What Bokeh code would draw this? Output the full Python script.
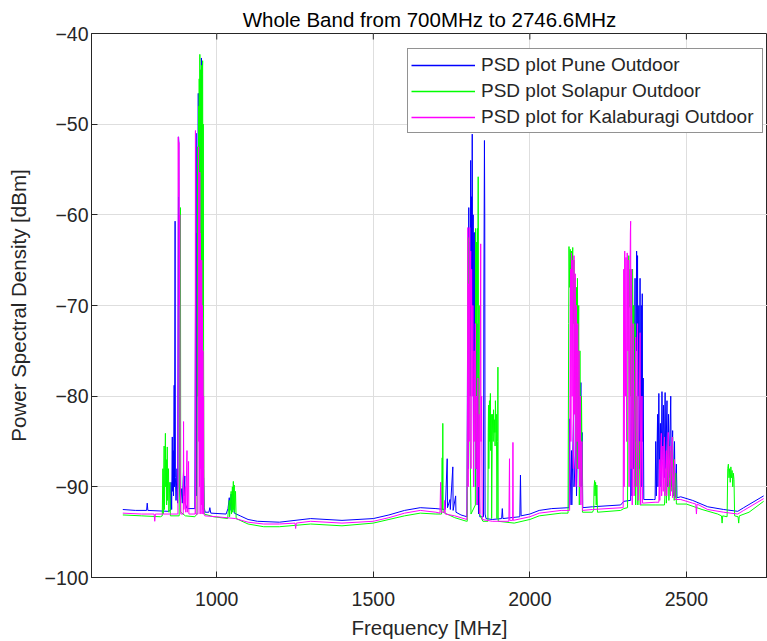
from bokeh.plotting import figure
from bokeh.models import Range1d, FixedTicker, Legend, LegendItem, ColumnDataSource
from bokeh.embed import file_html
from bokeh.resources import INLINE

TITLE = "Whole Band from 700MHz to 2746.6MHz"
X_LABEL = "Frequency [MHz]"
Y_LABEL = "Power Spectral Density [dBm]"
X_TICKS = [1000, 1500, 2000, 2500]
Y_TICKS = [-100, -90, -80, -70, -60, -50, -40]
SERIES_NAMES = ["PSD plot Pune Outdoor", "PSD plot Solapur Outdoor", "PSD plot for Kalaburagi Outdoor"]

# (frequency MHz, PSD dBm)
pune = [
    (700, -92.5), (740, -92.6), (776, -92.6), (778, -91.8), (780, -92.6), (845, -92.7),
    (852, -92.6), (854, -89.5), (856, -92.5), (858, -84.5), (859, -90.5), (861, -86.0), (862, -91.0),
    (864, -78.8), (865, -90.0), (867, -60.7), (868, -89.0), (870, -91.5), (873, -88.0), (875, -91.8),
    (878, -51.4), (879, -52.0), (880, -90.0), (884, -91.5), (888, -90.2), (890, -91.8), (894, -88.2),
    (895, -91.0), (898, -88.8), (899, -91.8), (905, -92.4), (930, -92.4), (934, -51.0), (935, -91.0),
    (938, -62.0), (939, -80.0), (941, -46.6), (942, -70.0), (944, -55.0), (945, -75.0), (947, -60.0),
    (948, -85.0), (951, -42.7), (952, -80.0), (954, -88.2), (956, -91.5), (958, -89.0), (960, -92.3),
    (963, -92.8), (975, -92.8), (978, -92.3), (981, -92.9), (1030, -93.0), (1036, -92.4), (1040, -91.2),
    (1042, -92.6), (1046, -90.8), (1048, -92.5), (1053, -91.5), (1056, -92.9), (1075, -93.2),
    (1100, -93.6), (1130, -93.8), (1200, -93.9), (1300, -93.5), (1400, -93.7), (1500, -93.5),
    (1550, -93.1), (1600, -92.6), (1650, -92.3), (1700, -92.4), (1730, -92.5), (1736, -86.9),
    (1737, -92.3), (1745, -91.4), (1746, -92.5), (1754, -87.8), (1755, -92.6), (1763, -91.0),
    (1764, -92.8), (1780, -93.1), (1799, -93.3),
    (1801, -75.0), (1803, -88.0), (1805, -59.2), (1806, -72.0), (1808, -63.0), (1809, -80.0),
    (1811, -54.0), (1812, -70.0), (1814, -58.0), (1815, -66.0), (1816, -51.1), (1817, -75.0),
    (1819, -60.0), (1820, -85.0), (1822, -62.0), (1823, -80.0), (1825, -61.9), (1826, -90.0),
    (1828, -66.0), (1829, -88.0), (1831, -72.0), (1832, -92.0), (1834, -80.0), (1836, -93.0),
    (1838, -88.0), (1840, -93.3), (1852, -93.3), (1853, -70.0), (1855, -51.8), (1856, -60.0),
    (1857, -93.0), (1860, -93.5), (1880, -93.6), (1910, -93.5), (1912, -92.4), (1914, -93.5),
    (1940, -93.4), (1968, -93.3), (1970, -88.7), (1972, -93.2), (2000, -93.0), (2030, -92.6),
    (2070, -92.4), (2125, -92.3),
    (2127, -82.5), (2128, -92.0), (2133, -86.0), (2134, -92.0), (2140, -81.5), (2141, -90.0),
    (2148, -85.0), (2149, -91.0), (2156, -77.9), (2157, -88.0), (2160, -82.0), (2161, -89.0),
    (2163, -78.5), (2164, -90.0), (2167, -84.0), (2169, -92.3), (2200, -92.2), (2290, -92.0),
    (2300, -91.6), (2320, -91.5),
    (2322, -91.5), (2324, -75.0), (2326, -91.0), (2330, -70.0), (2331, -88.0), (2336, -67.0),
    (2337, -85.0), (2341, -64.0), (2342, -75.0), (2344, -64.5), (2345, -80.0), (2348, -70.0),
    (2349, -88.0), (2352, -67.0), (2353, -85.0), (2356, -70.0), (2357, -90.0), (2359, -68.7),
    (2360, -85.0), (2362, -78.0), (2364, -91.4), (2395, -91.4),
    (2400, -91.4), (2402, -85.0), (2404, -91.0), (2408, -82.0), (2409, -90.0), (2412, -79.7),
    (2414, -88.0), (2417, -83.0), (2419, -90.0), (2422, -79.5), (2424, -87.0), (2427, -81.0),
    (2429, -89.0), (2432, -79.6), (2434, -88.0), (2438, -80.5), (2440, -90.0), (2443, -82.0),
    (2445, -89.0), (2450, -80.0), (2452, -90.0), (2456, -83.8), (2458, -91.0), (2462, -85.0),
    (2464, -91.2), (2468, -87.5), (2470, -91.2), (2482, -91.1),
    (2520, -91.5), (2568, -92.2), (2619, -92.5), (2664, -92.7), (2683, -92.3), (2746.6, -91.0),
]

solapur = [
    (700, -93.1), (760, -93.2), (820, -93.3), (826, -93.2), (828, -88.0), (829, -93.0), (832, -85.5),
    (833, -92.5), (836, -84.1), (837, -90.0), (839, -87.0), (840, -92.0), (842, -85.6), (843, -91.5),
    (846, -88.0), (847, -92.8), (850, -89.5), (852, -93.2), (880, -93.2), (884, -59.2), (885, -92.8),
    (900, -93.2), (930, -93.3), (937, -93.0), (939, -52.5), (940, -80.0), (942, -48.0), (943, -71.0),
    (944, -45.0), (945, -70.0), (946, -42.3), (947, -68.0), (948, -44.0), (949, -71.0), (950, -46.0),
    (951, -65.0), (952, -43.5), (953, -70.0), (954, -44.5), (955, -43.0), (956, -71.3), (957, -50.0),
    (958, -75.0), (959, -88.0), (960, -93.0), (990, -93.3), (1035, -93.5), (1040, -91.5),
    (1041, -93.3), (1046, -90.5), (1047, -93.0), (1050, -90.0), (1051, -92.8), (1053, -89.4),
    (1054, -92.5), (1056, -89.8), (1057, -92.8), (1060, -90.5), (1062, -93.5), (1100, -94.1),
    (1150, -94.4), (1200, -94.4), (1300, -94.1), (1400, -94.3), (1500, -94.0), (1550, -93.6),
    (1600, -93.2), (1650, -92.9), (1700, -93.0), (1718, -93.0), (1720, -86.8), (1721, -92.5),
    (1722, -83.0), (1723, -92.8), (1760, -93.4), (1798, -93.8),
    (1800, -93.8), (1802, -70.0), (1803, -62.5), (1805, -75.0), (1807, -66.0), (1809, -85.0),
    (1812, -93.0), (1826, -92.0), (1827, -61.5), (1828, -75.0), (1830, -63.0), (1831, -80.0),
    (1833, -61.5), (1834, -70.0), (1835, -55.8), (1836, -85.0), (1838, -70.0), (1839, -93.0),
    (1850, -93.8), (1866, -93.8), (1867, -84.0), (1868, -81.0), (1869, -88.0), (1871, -80.5),
    (1872, -85.0), (1874, -79.7), (1875, -86.0), (1877, -82.0), (1878, -93.5), (1880, -84.5),
    (1881, -82.0), (1883, -85.0), (1884, -81.5), (1886, -84.0), (1887, -82.6), (1889, -85.5),
    (1890, -80.5), (1892, -84.0), (1893, -82.0), (1895, -93.5), (1897, -85.0), (1898, -76.8),
    (1899, -93.8), (1950, -94.0), (2000, -93.6), (2030, -93.2), (2100, -92.9), (2122, -92.9),
    (2124, -72.0), (2125, -63.5), (2127, -68.0), (2129, -63.8), (2131, -70.0), (2133, -64.0),
    (2135, -66.0), (2137, -63.6), (2139, -72.0), (2141, -65.0), (2143, -78.0), (2145, -67.0),
    (2147, -85.0), (2149, -68.0), (2151, -88.0), (2152, -67.0), (2154, -80.0), (2156, -70.0),
    (2158, -92.0), (2160, -75.0), (2162, -90.0), (2165, -80.0), (2168, -92.8), (2200, -92.8),
    (2204, -92.5), (2205, -90.0), (2207, -89.3), (2208, -91.0), (2210, -89.5), (2212, -92.0),
    (2214, -89.8), (2216, -92.8), (2290, -92.6), (2300, -92.4), (2312, -92.3),
    (2314, -70.0), (2316, -64.5), (2318, -70.2), (2320, -66.0), (2322, -80.0), (2324, -67.0),
    (2326, -88.0), (2328, -66.0), (2330, -75.0), (2332, -70.0), (2334, -90.0), (2336, -72.0),
    (2338, -92.0), (2342, -80.0), (2345, -92.0), (2350, -85.0), (2352, -92.0), (2400, -92.0),
    (2430, -92.0), (2435, -88.0), (2436, -91.8), (2443, -85.0), (2444, -91.5), (2450, -86.0),
    (2451, -90.5), (2456, -84.5), (2457, -91.0), (2460, -87.0), (2461, -91.5), (2466, -88.5),
    (2468, -91.9), (2500, -91.9), (2550, -92.5), (2600, -93.0), (2612, -93.2), (2614, -94.0),
    (2616, -93.2), (2630, -93.3), (2632, -88.0), (2634, -87.5), (2636, -89.0), (2638, -88.0),
    (2640, -89.5), (2642, -87.8), (2644, -89.0), (2646, -88.2), (2648, -90.0), (2650, -88.5),
    (2652, -89.2), (2654, -93.2), (2665, -93.3), (2667, -94.0), (2669, -93.2), (2700, -92.8),
    (2746.6, -91.6),
]

kalaburagi = [
    (700, -92.9), (760, -93.0), (800, -93.0), (802, -93.8), (804, -93.0), (850, -93.0), (876, -93.0),
    (877, -51.4), (878, -58.0), (879, -52.0), (880, -58.0), (881, -70.0), (882, -60.0), (883, -88.0),
    (885, -93.0), (893, -93.0), (894, -82.8), (895, -92.5), (900, -90.0), (901, -92.8), (905, -86.0),
    (906, -92.8), (910, -87.2), (911, -93.0), (931, -93.0), (932, -50.7), (933, -93.0), (940, -93.0),
    (941, -70.0), (942, -52.5), (943, -85.0), (944, -60.0), (945, -90.0), (946, -55.3), (947, -93.0),
    (948, -62.0), (949, -88.0), (950, -66.0), (951, -92.0), (952, -65.0), (953, -93.0), (954, -70.0),
    (955, -92.5), (956, -75.0), (957, -93.0), (958, -80.0), (959, -93.0), (962, -93.2),
    (1000, -93.3), (1060, -93.5), (1100, -93.9), (1150, -94.1), (1200, -94.1), (1250, -94.0),
    (1252, -94.6), (1254, -94.0), (1300, -93.8), (1400, -94.0), (1500, -93.8), (1550, -93.4),
    (1600, -92.9), (1650, -92.6), (1700, -92.8), (1713, -92.9), (1715, -89.5), (1717, -92.8),
    (1727, -92.8), (1728, -91.5), (1730, -93.0), (1760, -93.2), (1799, -93.6),
    (1801, -80.0), (1802, -61.4), (1803, -90.0), (1805, -67.6), (1806, -85.0), (1808, -61.4),
    (1809, -70.0), (1811, -64.0), (1812, -88.0), (1814, -66.0), (1816, -80.0), (1818, -70.0),
    (1820, -90.0), (1822, -75.0), (1824, -85.0), (1826, -72.0), (1828, -88.0), (1830, -80.0),
    (1832, -92.0), (1834, -78.0), (1836, -90.0), (1838, -82.0), (1840, -93.0), (1843, -63.2),
    (1844, -85.0), (1846, -80.0), (1848, -93.6), (1880, -93.8), (1933, -93.8), (1935, -86.9),
    (1936, -93.7), (1945, -93.7), (1946, -85.1), (1947, -93.7), (2000, -93.3), (2030, -92.9),
    (2100, -92.6), (2127, -92.6),
    (2129, -70.0), (2130, -66.0), (2131, -85.0), (2133, -64.2), (2135, -80.0), (2137, -65.0),
    (2139, -88.0), (2141, -64.5), (2143, -82.0), (2145, -66.5), (2147, -90.0), (2149, -70.0),
    (2151, -85.0), (2153, -72.0), (2155, -88.0), (2157, -75.0), (2159, -90.0), (2161, -80.0),
    (2163, -92.0), (2166, -85.0), (2168, -92.6), (2200, -92.5), (2295, -92.3), (2298, -92.3),
    (2300, -66.0), (2301, -90.0), (2303, -64.0), (2305, -80.0), (2307, -64.7), (2309, -85.0),
    (2311, -64.2), (2313, -75.0), (2315, -65.0), (2317, -90.0), (2319, -70.0), (2321, -62.0),
    (2322, -60.7), (2323, -88.0), (2325, -66.0), (2327, -92.0), (2330, -72.0), (2333, -91.0),
    (2338, -73.5), (2340, -90.0), (2344, -72.0), (2346, -91.5), (2352, -73.0), (2354, -92.0),
    (2358, -80.0), (2360, -91.8), (2400, -91.7), (2412, -91.7), (2414, -87.0), (2415, -91.5),
    (2420, -84.1), (2421, -91.0), (2425, -85.5), (2426, -90.5), (2430, -84.5), (2431, -91.0),
    (2436, -86.0), (2437, -91.0), (2442, -84.0), (2443, -90.0), (2448, -85.5), (2449, -91.0),
    (2455, -84.5), (2456, -91.2), (2462, -87.0), (2464, -91.4), (2482, -91.4), (2520, -91.8),
    (2530, -91.9), (2532, -93.0), (2534, -91.9), (2568, -92.5), (2619, -92.8), (2664, -93.0),
    (2683, -92.6), (2746.6, -91.3),
]

COLORS = ["#0000ff", "#00ff00", "#ff00ff"]
FONT = "Liberation Sans"
AX = "#262626"

p = figure(width=767, height=641, output_backend="svg", toolbar_location=None,
           x_range=Range1d(600, 2759), y_range=Range1d(-100, -40),
           min_border_left=91, min_border_right=0, min_border_top=33, min_border_bottom=64)

p.title.text = TITLE
p.title.align = "center"
p.title.text_font = FONT
p.title.text_font_size = "20.5px"
p.title.text_font_style = "normal"
p.title.text_color = "#000000"
p.title.standoff = 5
p.title.offset = 0

p.xgrid.ticker = FixedTicker(ticks=X_TICKS)
p.ygrid.ticker = FixedTicker(ticks=Y_TICKS)
p.grid.grid_line_color = "#dedede"
p.grid.grid_line_width = 1
p.outline_line_color = AX
p.background_fill_color = "white"
p.border_fill_color = "white"

# tick marks along the top border (box on)
p.rect(x=X_TICKS, y=[-40] * len(X_TICKS), width=1, height=12, width_units="screen",
       height_units="screen", fill_color=AX, line_color=None)

NAN = float("nan")
legend_renderers = []
for data, color in zip([pune, solapur, kalaburagi], COLORS):
    src = ColumnDataSource(dict(x=[d[0] for d in data], y=[d[1] for d in data]))
    p.line("x", "y", source=src, line_color=color, line_width=1)
    # undrawn (NaN) renderer used only for a crisp legend sample
    lr = p.line(x=[NAN], y=[NAN], line_color=color, line_width=1.5)
    legend_renderers.append(lr)

for ax in (p.xaxis[0], p.yaxis[0]):
    ax.axis_line_color = AX
    ax.major_tick_line_color = AX
    ax.major_tick_in = 6
    ax.major_tick_out = 0
    ax.minor_tick_line_color = None
    ax.major_label_text_font = FONT
    ax.major_label_text_font_size = "19.5px"
    ax.major_label_text_color = AX
    ax.axis_label_text_font = FONT
    ax.axis_label_text_font_size = "20.5px"
    ax.axis_label_text_font_style = "normal"
    ax.axis_label_text_color = AX

p.xaxis.ticker = FixedTicker(ticks=X_TICKS)
p.yaxis.ticker = FixedTicker(ticks=Y_TICKS)
p.xaxis.axis_label = X_LABEL
p.yaxis.axis_label = Y_LABEL
p.xaxis.major_label_standoff = 14
p.xaxis.axis_label_standoff = 7
p.yaxis.major_label_standoff = 3
p.yaxis.axis_label_standoff = 12

legend = Legend(items=[LegendItem(label=n, renderers=[r]) for n, r in zip(SERIES_NAMES, legend_renderers)],
                location=(316, 444))
legend.label_text_font = FONT
legend.label_text_font_size = "19px"
legend.label_text_color = AX
legend.glyph_width = 64
legend.glyph_height = 20
legend.label_height = 25
legend.label_width = 278
legend.label_standoff = 6
legend.spacing = 1
legend.padding = 3
legend.margin = 0
legend.border_line_color = AX
legend.border_line_width = 1
legend.background_fill_alpha = 1
p.add_layout(legend, "center")

open("out.html", "w").write(file_html(p, INLINE))
